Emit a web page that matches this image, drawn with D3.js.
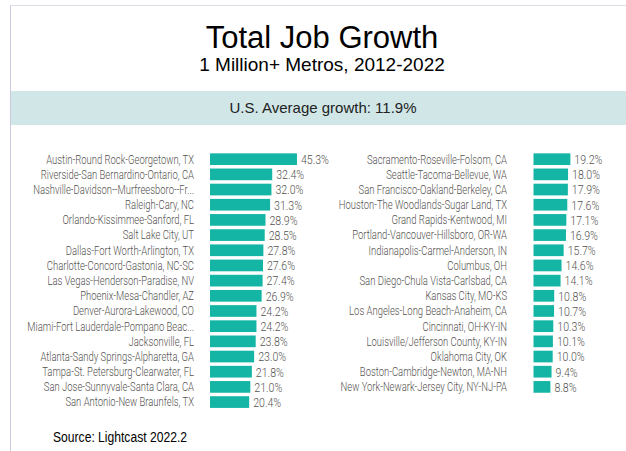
<!DOCTYPE html>
<html lang="en">

<head>
    <meta charset="UTF-8">
    <title>Total Job Growth</title>
    <style>
        body {
            margin: 0;
            background-color: white;
        }

        svg {
            display: block;
            background-color: white;
        }

        .metro,
        .value {
            font-family: Roboto, "Noto Sans", sans-serif;
            font-weight: 300;
            fill: #555350;
        }
    </style>
</head>

<body>
    <script src="https://d3js.org/d3.v7.min.js"></script>
    <script>
        {
            // left column, fastest growth first
            let leftMetros = [
                'Austin-Round Rock-Georgetown, TX',
                'Riverside-San Bernardino-Ontario, CA',
                'Nashville-Davidson--Murfreesboro--Fr...',
                'Raleigh-Cary, NC',
                'Orlando-Kissimmee-Sanford, FL',
                'Salt Lake City, UT',
                'Dallas-Fort Worth-Arlington, TX',
                'Charlotte-Concord-Gastonia, NC-SC',
                'Las Vegas-Henderson-Paradise, NV',
                'Phoenix-Mesa-Chandler, AZ',
                'Denver-Aurora-Lakewood, CO',
                'Miami-Fort Lauderdale-Pompano Beac...',
                'Jacksonville, FL',
                'Atlanta-Sandy Springs-Alpharetta, GA',
                'Tampa-St. Petersburg-Clearwater, FL',
                'San Jose-Sunnyvale-Santa Clara, CA',
                'San Antonio-New Braunfels, TX'
            ];
            let leftValues = [45.3, 32.4, 32.0, 31.3, 28.9, 28.5, 27.8, 27.6, 27.4, 26.9, 24.2, 24.2, 23.8, 23.0, 21.8, 21.0, 20.4];

            // right column
            let rightMetros = [
                'Sacramento-Roseville-Folsom, CA',
                'Seattle-Tacoma-Bellevue, WA',
                'San Francisco-Oakland-Berkeley, CA',
                'Houston-The Woodlands-Sugar Land, TX',
                'Grand Rapids-Kentwood, MI',
                'Portland-Vancouver-Hillsboro, OR-WA',
                'Indianapolis-Carmel-Anderson, IN',
                'Columbus, OH',
                'San Diego-Chula Vista-Carlsbad, CA',
                'Kansas City, MO-KS',
                'Los Angeles-Long Beach-Anaheim, CA',
                'Cincinnati, OH-KY-IN',
                'Louisville/Jefferson County, KY-IN',
                'Oklahoma City, OK',
                'Boston-Cambridge-Newton, MA-NH',
                'New York-Newark-Jersey City, NY-NJ-PA'
            ];
            let rightValues = [19.2, 18.0, 17.9, 17.6, 17.1, 16.9, 15.7, 14.6, 14.1, 10.8, 10.7, 10.3, 10.1, 10.0, 9.4, 8.8];

            let title = 'Total Job Growth';
            let subtitle = '1 Million+ Metros, 2012-2022';
            let banner = 'U.S. Average growth: 11.9%';
            let source = 'Source: Lightcast 2022.2';

            let W = 626, H = 451;
            let step = 15.18;
            let top = 151.6;

            let svg = d3.select('body')
                .append('svg')
                .attr('width', W)
                .attr('height', H);

            // the labels in the picture use a narrow face; squeeze a normal one to the same width
            function squeeze(text, width) {
                let probe = svg.append('text')
                    .attr('class', text.cls)
                    .style('font-size', text.size)
                    .text(text.str);
                let w = probe.node().getComputedTextLength();
                probe.remove();
                return width / w;
            }

            // frame
            svg.append('line')
                .attr('x1', 10.5).attr('x2', 10.5)
                .attr('y1', 5).attr('y2', H)
                .attr('stroke', '#cbcbdb');
            svg.append('line')
                .attr('x1', 10).attr('x2', W)
                .attr('y1', 5.5).attr('y2', 5.5)
                .attr('stroke', '#dcdce6');

            svg.append('text')
                .attr('x', 322).attr('y', 48)
                .attr('text-anchor', 'middle')
                .style('font-family', 'Liberation Sans, Arial, sans-serif')
                .style('font-size', '31px')
                .text(title);

            svg.append('text')
                .attr('x', 322).attr('y', 71)
                .attr('text-anchor', 'middle')
                .style('font-family', 'Liberation Sans, Arial, sans-serif')
                .style('font-size', '19px')
                .text(subtitle);

            svg.append('rect')
                .attr('x', 11).attr('y', 91)
                .attr('width', W - 11).attr('height', 34)
                .attr('fill', '#d0e6e7');

            svg.append('text')
                .attr('x', 323).attr('y', 113)
                .attr('text-anchor', 'middle')
                .style('font-family', 'Liberation Sans, Arial, sans-serif')
                .style('font-size', '15px')
                .attr('fill', '#222')
                .text(banner);

            // one px-per-percent scale shared by both columns
            let x = d3.scaleLinear().domain([0, 50]).range([0, 96]);

            let kLabel = squeeze({ cls: 'metro', size: '12.5px', str: leftMetros[0] }, 148);
            let kValue = squeeze({ cls: 'value', size: '13.5px', str: '32.4%' }, 28);

            function drawColumn(metros, values, labelRight, barLeft) {
                let y = d3.scaleBand()
                    .domain(d3.range(metros.length))
                    .range([top, top + metros.length * step])
                    .paddingInner(0.23)
                    .paddingOuter(0.115);

                let g = svg.append('g');

                g.selectAll('rect')
                    .data(values)
                    .enter()
                    .append('rect')
                    .attr('x', barLeft)
                    .attr('y', (d, i) => y(i))
                    .attr('width', d => x(d))
                    .attr('height', y.bandwidth())
                    .attr('fill', '#14b5a4');

                g.selectAll('.metro')
                    .data(metros)
                    .enter()
                    .append('text')
                    .attr('class', 'metro')
                    .attr('transform', (d, i) =>
                        `translate(${labelRight},${y(i) + y.bandwidth() / 2}) scale(${kLabel},1)`)
                    .attr('dy', '0.35em')
                    .attr('text-anchor', 'end')
                    .style('font-size', '12.5px')
                    .text(d => d);

                g.selectAll('.value')
                    .data(values)
                    .enter()
                    .append('text')
                    .attr('class', 'value')
                    .attr('transform', (d, i) =>
                        `translate(${barLeft + x(d) + 4},${y(i) + y.bandwidth() / 2}) scale(${kValue},1)`)
                    .attr('dy', '0.36em')
                    .style('font-size', '13.5px')
                    .text(d => d.toFixed(1) + '%');
            }

            drawColumn(leftMetros, leftValues, 194, 210);
            drawColumn(rightMetros, rightValues, 507, 533.5);

            svg.append('text')
                .attr('x', 53).attr('y', 442)
                .attr('textLength', 134)
                .attr('lengthAdjust', 'spacingAndGlyphs')
                .style('font-family', 'Liberation Sans, Arial, sans-serif')
                .style('font-size', '14px')
                .text(source);
        }
    </script>
</body>

</html>
